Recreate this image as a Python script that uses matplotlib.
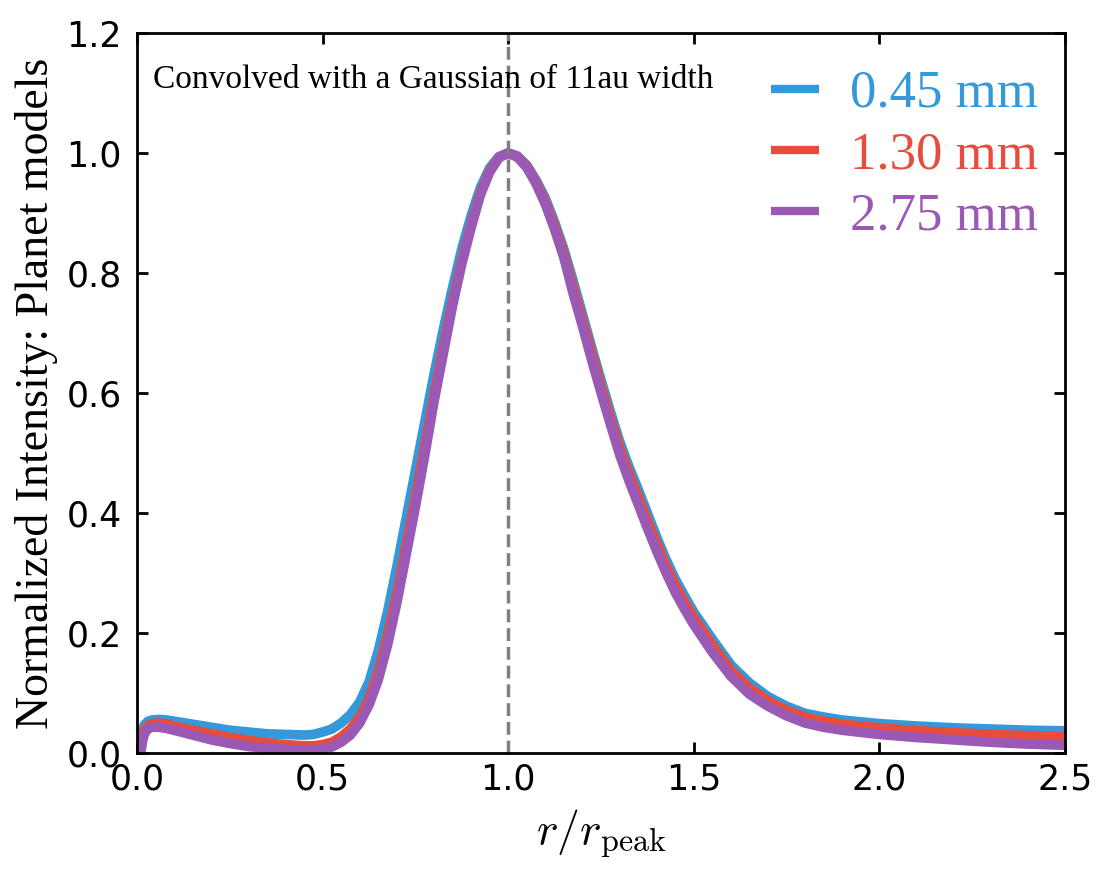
import matplotlib
matplotlib.use("Agg")
import matplotlib.pyplot as plt

plt.rcParams["mathtext.fontset"] = "cm"

# radius in units of r_peak
r = [0.01, 0.015, 0.02, 0.03, 0.04, 0.06, 0.08, 0.1, 0.15, 0.2, 0.25, 0.3, 0.35, 0.4, 0.45, 0.475,
     0.5, 0.525, 0.55, 0.575, 0.6, 0.625, 0.65, 0.675, 0.7, 0.725, 0.75, 0.775, 0.8, 0.825,
     0.85, 0.875, 0.9, 0.925, 0.95, 0.975, 1.0,
     1.025, 1.05, 1.075, 1.1, 1.125, 1.15, 1.175, 1.2, 1.225, 1.25, 1.275, 1.3, 1.325, 1.35,
     1.375, 1.4, 1.425, 1.45, 1.475, 1.5,
     1.55, 1.6, 1.65, 1.7, 1.75, 1.8, 1.85, 1.9, 2.0, 2.1, 2.2, 2.3, 2.4, 2.5]

int_045 = [0.020, 0.038, 0.047, 0.053, 0.055, 0.056, 0.055, 0.053, 0.048, 0.043, 0.038, 0.035, 0.032, 0.031, 0.030, 0.031,
           0.035, 0.040, 0.050, 0.064, 0.085, 0.118, 0.170, 0.235, 0.310, 0.390, 0.470, 0.550, 0.630, 0.705,
           0.775, 0.840, 0.895, 0.942, 0.975, 0.994, 1.0,
           0.995, 0.980, 0.955, 0.925, 0.885, 0.840, 0.787, 0.732, 0.676, 0.622, 0.570, 0.520, 0.478, 0.440,
           0.400, 0.360, 0.323, 0.290, 0.262, 0.235,
           0.190, 0.147, 0.117, 0.094, 0.078, 0.066, 0.060, 0.055, 0.049, 0.045, 0.042, 0.040, 0.038, 0.037]

int_130 = [0.010, 0.028, 0.038, 0.046, 0.049, 0.050, 0.048, 0.045, 0.038, 0.032, 0.026, 0.021, 0.017, 0.014, 0.012, 0.012,
           0.014, 0.018, 0.027, 0.040, 0.060, 0.090, 0.135, 0.195, 0.265, 0.345, 0.425, 0.510, 0.595, 0.675,
           0.752, 0.820, 0.880, 0.933, 0.970, 0.993, 1.0,
           0.994, 0.978, 0.952, 0.920, 0.879, 0.833, 0.777, 0.723, 0.667, 0.612, 0.560, 0.510, 0.467, 0.428,
           0.388, 0.349, 0.313, 0.280, 0.252, 0.226,
           0.180, 0.138, 0.108, 0.087, 0.071, 0.060, 0.053, 0.048, 0.042, 0.037, 0.034, 0.031, 0.029, 0.027]

int_275 = [0.000, 0.020, 0.032, 0.041, 0.043, 0.043, 0.041, 0.038, 0.030, 0.022, 0.016, 0.011, 0.008, 0.006, 0.005, 0.005,
           0.007, 0.010, 0.018, 0.030, 0.050, 0.080, 0.122, 0.180, 0.250, 0.330, 0.410, 0.495, 0.585, 0.665,
           0.745, 0.815, 0.875, 0.930, 0.968, 0.992, 1.0,
           0.993, 0.976, 0.949, 0.915, 0.873, 0.826, 0.766, 0.712, 0.655, 0.601, 0.549, 0.498, 0.455, 0.415,
           0.375, 0.337, 0.301, 0.268, 0.240, 0.214,
           0.168, 0.128, 0.098, 0.078, 0.062, 0.050, 0.043, 0.038, 0.031, 0.026, 0.022, 0.018, 0.015, 0.013]

labels = ["0.45 mm", "1.30 mm", "2.75 mm"]
colors = ["#3498db", "#e74c3c", "#9b59b6"]

fig = plt.figure(figsize=(11.10, 8.74), dpi=100)
ax = fig.add_axes([0.1234, 0.1384, 0.836, 0.8238])

for y, lab, c in zip([int_045, int_130, int_275], labels, colors):
    ax.plot(r, y, color=c, lw=7, label=lab, solid_capstyle="butt",
            solid_joinstyle="round")

ax.axvline(1.0, color="gray", ls="--", lw=2.5, dashes=(3.7, 1.7))

ax.set_xlim(0, 2.5)
ax.set_ylim(0, 1.2)
ax.set_xticks([0.0, 0.5, 1.0, 1.5, 2.0, 2.5])
ax.set_yticks([0.0, 0.2, 0.4, 0.6, 0.8, 1.0, 1.2])
ax.tick_params(direction="in", top=True, right=True, length=8, width=2,
               labelsize=25)
ax.tick_params(axis="x", pad=7)
ax.tick_params(axis="y", pad=11)
for s in ax.spines.values():
    s.set_linewidth(2)

ax.set_xlabel(r"$r/r_\mathrm{peak}$", fontsize=33, labelpad=8)
ax.set_ylabel("Normalized Intensity: Planet models", fontsize=33,
              family="Liberation Serif", labelpad=6)

ax.text(0.017, 0.935, "Convolved with a Gaussian of 11au width",
        transform=ax.transAxes, fontsize=24, family="Liberation Serif",
        ha="left", va="center")

leg = ax.legend(loc="upper right", bbox_to_anchor=(1.011, 1.0),
                frameon=False, labelcolor="linecolor",
                prop={"family": "Liberation Serif", "size": 38},
                handlelength=0.9, handletextpad=0.6, labelspacing=0.25,
                borderaxespad=0.3)
for h in leg.get_lines():
    h.set_linewidth(6)
    h.set_solid_capstyle("butt")

fig.savefig("out.png", dpi=100)
